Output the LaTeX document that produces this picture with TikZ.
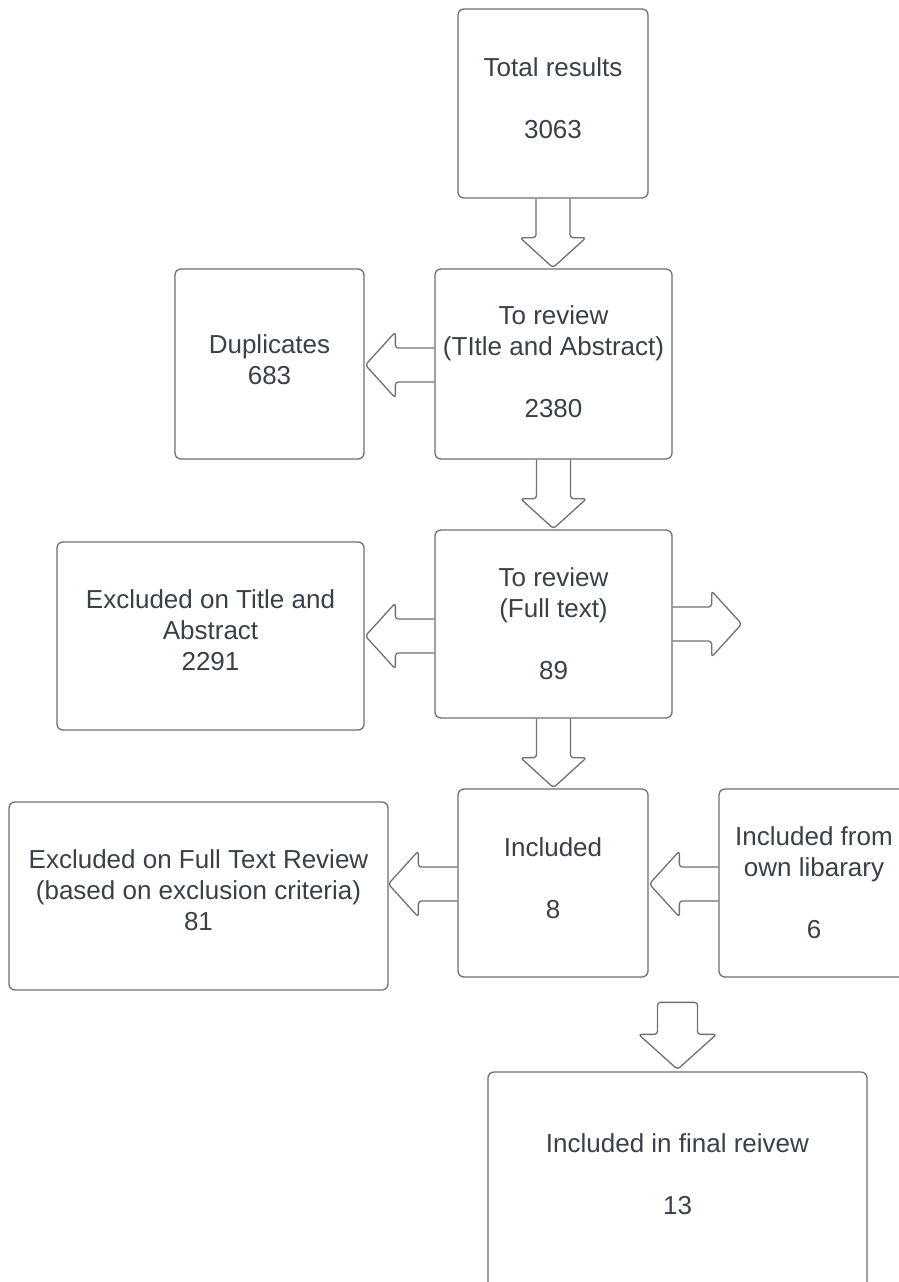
\documentclass[tikz,border=0pt]{standalone}
\usepackage{fontspec}
\setmainfont{Liberation Sans}
\definecolor{bordc}{RGB}{112,112,112}
\definecolor{textc}{RGB}{58,64,73}
\newcommand\dpth[1]{\rule[-#1]{0pt}{#1}}
\tikzset{
  box/.style={draw=bordc, line width=1.3pt, rounded corners=6pt, align=center,
    inner sep=0pt, text=textc, font=\fontsize{26}{31}\selectfont},
  blk/.style={draw=bordc, line width=1.3pt, rounded corners=3pt, line join=round},
  blkarrow/.pic={\draw[blk] (-17pt,0pt) -- (-17pt,-39pt) -- (-33pt,-39pt) -- (0pt,-69pt)
      -- (33pt,-39pt) -- (17pt,-39pt) -- (17pt,0pt);},
  floatarrow/.pic={\draw[blk] (0pt,0pt) -- (-39pt,35pt) -- (-20pt,35pt) -- (-20pt,67pt)
      -- (20pt,67pt) -- (20pt,35pt) -- (39pt,35pt) -- cycle;}
}
\begin{document}
\begin{tikzpicture}[x=1pt,y=1pt]
\fill[white] (0,0) rectangle (899,-1282);
\useasboundingbox (0,0) rectangle (899,-1282);

\node[box, minimum width=190pt, minimum height=189pt] (tot) at (553,-103.5)
  {Total results\\[31pt]3063\dpth{10pt}};
\node[box, minimum width=237pt, minimum height=190pt] (ta) at (553.5,-364)
  {To review\\(TItle and Abstract)\\[31pt]2380\dpth{4pt}};
\node[box, minimum width=189pt, minimum height=190pt] (dup) at (269.5,-364)
  {Duplicates\\683\dpth{8pt}};
\node[box, minimum width=237pt, minimum height=188pt] (ft) at (553.5,-624)
  {To review\\(Full text)\\[31pt]89};
\node[box, minimum width=307pt, minimum height=188pt] (exta) at (210.5,-636)
  {Excluded on Title and\\Abstract\\2291\dpth{12pt}};
\node[box, minimum width=190pt, minimum height=188pt] (inc) at (553,-883)
  {Included\\[31pt]8\dpth{10pt}};
\node[box, minimum width=190pt, minimum height=188pt] (own) at (814,-883)
  {Included from\\own libarary\\[31pt]6};
\node[box, minimum width=379pt, minimum height=188pt] (exft) at (198.5,-896)
  {Excluded on Full Text Review\\(based on exclusion criteria)\\81\dpth{12pt}};
\node[box, minimum width=379pt, minimum height=218pt] (fin) at (677.5,-1181)
  {Included in final reivew\\[31pt]13\dpth{14pt}};

\pic at (tot.south) {blkarrow};
\pic at (ta.south) {blkarrow};
\pic at (ft.south) {blkarrow};
\pic[rotate=-90] at ([yshift=-1pt]ta.west) {blkarrow};
\pic[rotate=-90] at ([yshift=-12pt]ft.west) {blkarrow};
\pic[rotate=90] at (ft.east) {blkarrow};
\pic[rotate=-90] at ([yshift=-1pt]inc.west) {blkarrow};
\pic[rotate=-90] at ([yshift=-1pt]own.west) {blkarrow};
\pic at ([yshift=2pt]fin.north) {floatarrow};
\end{tikzpicture}
\end{document}
